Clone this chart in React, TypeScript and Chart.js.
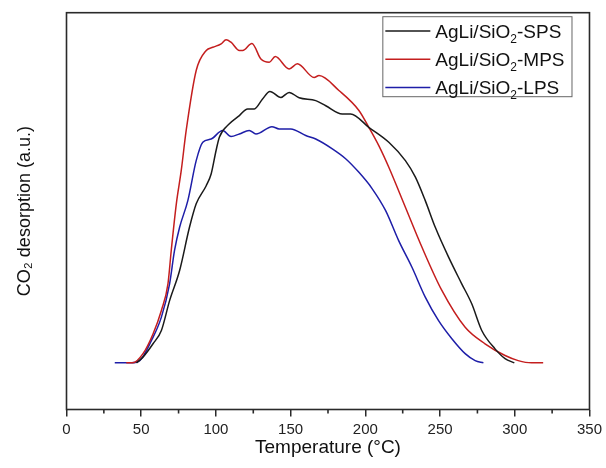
import React, { useEffect, useRef } from "react";
import { Chart, registerables } from "chart.js";

Chart.register(...registerables);

// ---- data ----
const seriesNames = ["AgLi/SiO₂-SPS", "AgLi/SiO₂-MPS", "AgLi/SiO₂-LPS"];
const seriesColors = ["#1a1a1a", "#c41e1e", "#1e1ea8"];

const spsTemp = [46.8, 51.2, 57.9, 63.5, 69.0, 75.7, 82.3, 86.8, 93.5, 96.8, 100.1, 102.3, 109.0, 115.7, 121.2, 125.7, 131.2, 136.1, 143.5, 149.0, 155.7, 166.8, 173.5, 184.5, 190.1, 202.3, 215.7, 226.8, 233.5, 240.1, 246.8, 255.7, 264.5, 271.2, 277.9, 286.8, 293.5, 299.7];
const spsSignal = [0, 1.8, 6.0, 10.2, 19.6, 29.1, 42.7, 50.1, 55.8, 59.5, 66.9, 71.1, 75.3, 77.9, 80.0, 80.0, 83.1, 85.5, 83.6, 85.2, 83.5, 82.6, 81.0, 78.4, 78.4, 74.2, 69.5, 63.7, 58.5, 51.1, 42.7, 33.3, 24.9, 18.6, 10.2, 4.4, 1.3, 0];

const mpsTemp = [40.0, 44.3, 51.2, 57.9, 63.5, 67.9, 70.1, 73.5, 76.8, 80.1, 86.8, 93.5, 97.9, 103.5, 106.8, 110.1, 115.7, 117.9, 124.1, 130.1, 135.7, 139.7, 149.0, 154.5, 165.7, 169.0, 182.3, 195.7, 202.3, 209.0, 215.7, 226.8, 237.9, 251.2, 266.8, 280.1, 293.5, 302.3, 311.2, 319.0];
const mpsSignal = [0, 0, 2.9, 9.1, 16.5, 24.9, 35.4, 50.1, 60.6, 73.2, 92.1, 98.4, 99.4, 100.5, 101.8, 101.0, 98.4, 98.4, 100.6, 95.7, 94.7, 96.5, 92.6, 94.2, 89.9, 90.5, 85.8, 79.5, 74.2, 68.4, 61.6, 49.0, 36.4, 22.8, 11.2, 6.0, 2.3, 0.7, 0, 0];

const lpsTemp = [32.3, 43.5, 49.0, 56.8, 63.5, 69.0, 72.3, 75.7, 81.2, 86.8, 91.2, 96.8, 104.5, 110.1, 115.7, 122.3, 126.8, 137.5, 142.3, 150.1, 160.1, 166.8, 177.9, 186.8, 195.7, 204.5, 213.5, 222.3, 231.2, 240.1, 249.0, 257.9, 266.8, 273.5, 279.0];
const lpsSignal = [0, 0, 0.7, 7.0, 14.4, 24.9, 35.4, 42.7, 51.1, 63.7, 69.5, 70.5, 73.2, 71.3, 72.1, 73.2, 72.1, 74.4, 73.7, 73.7, 71.6, 70.5, 67.4, 64.3, 60.0, 54.9, 48.0, 38.5, 30.1, 20.7, 13.3, 7.6, 2.9, 0.7, 0];

const xTicks = [0, 50, 100, 150, 200, 250, 300, 350];
const xMinorTicks = [25, 75, 125, 175, 225, 275, 325];

const xTitle = "Temperature (°C)";
const yTitle = "CO₂ desorption (a.u.)";

const FONT = '"Liberation Sans", Arial, Helvetica, sans-serif';

export default function App() {
  const ref = useRef<HTMLCanvasElement>(null);

  useEffect(() => {
    document.body.style.margin = "0";
    const canvas = ref.current;
    if (!canvas) return;

    const toPts = (t: number[], v: number[]) => t.map((x, i) => ({ x, y: v[i] }));

    const framePlugin = {
      id: "frame",
      afterDraw(chart: any) {
        const { ctx, chartArea: a } = chart;
        const xs = chart.scales.x;
        ctx.save();
        ctx.strokeStyle = "#2a2a2a";
        ctx.lineWidth = 1.6;
        ctx.strokeRect(a.left, a.top, a.right - a.left, a.bottom - a.top);
        // minor ticks
        ctx.beginPath();
        xMinorTicks.forEach((v) => {
          const px = xs.getPixelForValue(v);
          ctx.moveTo(px, a.bottom);
          ctx.lineTo(px, a.bottom + 4);
        });
        ctx.stroke();
        ctx.restore();
      },
    };

    const legendPlugin = {
      id: "boxLegend",
      afterDatasetsDraw(chart: any) {
        const { ctx, chartArea: a } = chart;
        const fs = 19;
        const mainFont = `${fs}px ${FONT}`;
        const subFont = `12px ${FONT}`;
        ctx.save();
        const measure = (label: string) => {
          const parts = label.split("₂");
          ctx.font = mainFont;
          let w = ctx.measureText(parts[0]).width;
          if (parts.length > 1) {
            ctx.font = subFont;
            w += ctx.measureText("2").width;
            ctx.font = mainFont;
            w += ctx.measureText(parts[1]).width;
          }
          return w;
        };
        const ds = chart.data.datasets;
        const maxW = Math.max(...ds.map((d: any) => measure(d.label)));
        const boxW = 3 + 45 + 5 + maxW + 7;
        const boxH = 80;
        const boxRight = a.right - 18;
        const boxTop = a.top + 3.5;
        const boxLeft = boxRight - boxW;
        ctx.fillStyle = "#fff";
        ctx.fillRect(boxLeft, boxTop, boxW, boxH);
        ctx.strokeStyle = "#666";
        ctx.lineWidth = 1;
        ctx.strokeRect(boxLeft + 0.5, boxTop + 0.5, boxW, boxH);
        ds.forEach((d: any, i: number) => {
          const y = boxTop + 14.7 + i * 28.3;
          ctx.strokeStyle = d.borderColor;
          ctx.lineWidth = 1.5;
          ctx.beginPath();
          ctx.moveTo(boxLeft + 3, y);
          ctx.lineTo(boxLeft + 48, y);
          ctx.stroke();
          const base = y + 6.8;
          let x = boxLeft + 53;
          ctx.fillStyle = "#111";
          ctx.textBaseline = "alphabetic";
          ctx.textAlign = "left";
          const parts = d.label.split("₂");
          ctx.font = mainFont;
          ctx.fillText(parts[0], x, base);
          x += ctx.measureText(parts[0]).width;
          if (parts.length > 1) {
            ctx.font = subFont;
            ctx.fillText("2", x, base + 5);
            x += ctx.measureText("2").width;
            ctx.font = mainFont;
            ctx.fillText(parts[1], x, base);
          }
        });
        ctx.restore();
      },
    };

    const chart = new Chart(canvas, {
      type: "line",
      data: {
        datasets: [
          { label: seriesNames[0], data: toPts(spsTemp, spsSignal), borderColor: seriesColors[0] },
          { label: seriesNames[1], data: toPts(mpsTemp, mpsSignal), borderColor: seriesColors[1] },
          { label: seriesNames[2], data: toPts(lpsTemp, lpsSignal), borderColor: seriesColors[2] },
        ],
      },
      options: {
        animation: false,
        responsive: false,
        devicePixelRatio: 1,
        layout: { padding: { left: 0, right: 14.5, top: 12.7, bottom: 0 } },
        plugins: { legend: { display: false }, tooltip: { enabled: false } },
        elements: {
          point: { radius: 0 },
          line: { borderWidth: 1.5, cubicInterpolationMode: "monotone", fill: false },
        },
        scales: {
          x: {
            type: "linear",
            min: 0,
            max: 350,
            afterBuildTicks: (s: any) => {
              s.ticks = xTicks.map((v) => ({ value: v }));
            },
            ticks: {
              font: { family: FONT, size: 15 },
              color: "#222",
              padding: 4,
              maxRotation: 0,
              autoSkip: false,
            },
            grid: {
              display: true,
              drawOnChartArea: false,
              drawTicks: true,
              tickLength: 7,
              color: "#2a2a2a",
              lineWidth: 1.5,
            },
            border: { display: false },
            title: {
              display: true,
              text: xTitle,
              font: { family: FONT, size: 19 },
              color: "#111",
              padding: { top: 0, bottom: 9 },
            },
            afterFit: (s: any) => {
              s.height = 58.5;
            },
          },
          y: {
            type: "linear",
            min: -14.7,
            max: 110.3,
            ticks: { display: false },
            grid: { display: false },
            border: { display: false },
            title: {
              display: true,
              text: yTitle,
              font: { family: FONT, size: 18 },
              color: "#111",
              padding: { top: 14, bottom: 0 },
            },
            afterFit: (s: any) => {
              s.width = 66.5;
            },
          },
        },
      },
      plugins: [framePlugin, legendPlugin],
    } as any);

    return () => chart.destroy();
  }, []);

  return (
    <div style={{ width: 606, height: 468 }}>
      <canvas ref={ref} width={606} height={468} />
    </div>
  );
}
